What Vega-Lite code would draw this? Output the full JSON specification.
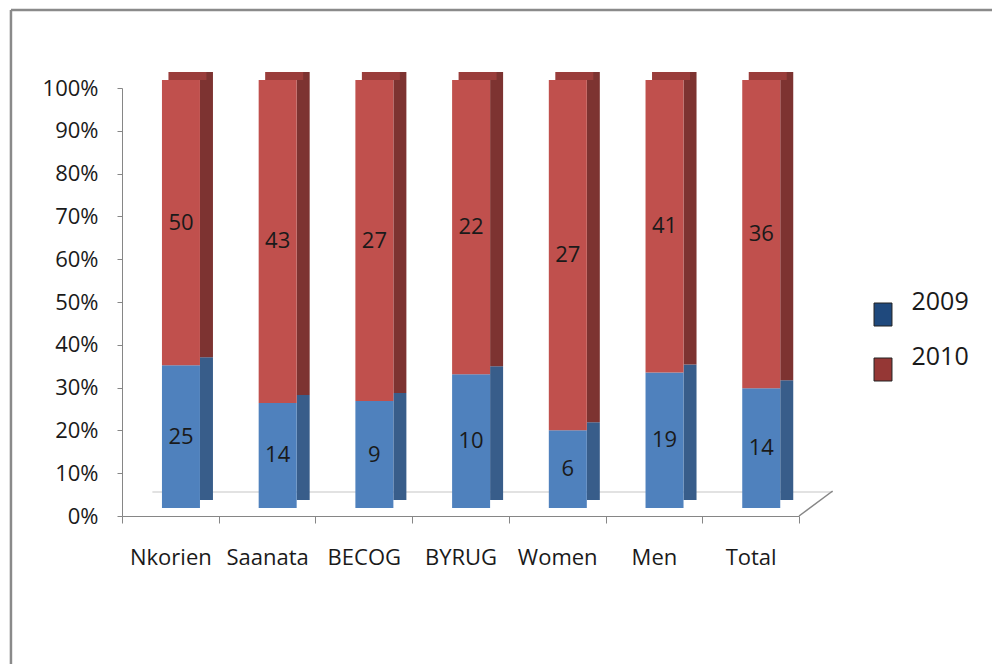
{
  "$schema": "https://vega.github.io/schema/vega-lite/v6.json",
  "width": 677,
  "height": 428,
  "autosize": "none",
  "padding": {"left": 122, "top": 88, "right": 193, "bottom": 148},
  "background": "white",
  "config": {
    "view": {"stroke": null},
    "font": "Open Sans",
    "axisX": {
      "title": null,
      "labelAngle": 0,
      "tickBand": "extent",
      "tickSize": 7,
      "domainColor": "#868686",
      "tickColor": "#868686",
      "labelFont": "Open Sans",
      "labelFontSize": 22,
      "labelPadding": 24,
      "labelColor": "#1a1a1a",
      "grid": false
    },
    "axisY": {
      "title": null,
      "grid": false,
      "domainColor": "#868686",
      "tickColor": "#868686",
      "tickSize": 5,
      "labelFont": "Open Sans",
      "labelFontSize": 22,
      "labelPadding": 19,
      "labelColor": "#1a1a1a",
      "values": [0, 0.1, 0.2, 0.3, 0.4, 0.5, 0.6, 0.7, 0.8, 0.9, 1],
      "format": ".0%"
    }
  },
  "data": {
    "values": [
      {"group": "Nkorien", "year": "2009", "count": 25},
      {"group": "Nkorien", "year": "2010", "count": 50},
      {"group": "Saanata", "year": "2009", "count": 14},
      {"group": "Saanata", "year": "2010", "count": 43},
      {"group": "BECOG", "year": "2009", "count": 9},
      {"group": "BECOG", "year": "2010", "count": 27},
      {"group": "BYRUG", "year": "2009", "count": 10},
      {"group": "BYRUG", "year": "2010", "count": 22},
      {"group": "Women", "year": "2009", "count": 6},
      {"group": "Women", "year": "2010", "count": 27},
      {"group": "Men", "year": "2009", "count": 19},
      {"group": "Men", "year": "2010", "count": 41},
      {"group": "Total", "year": "2009", "count": 14},
      {"group": "Total", "year": "2010", "count": 36}
    ]
  },
  "layer": [
    {
      "description": "outer frame, left edge",
      "data": {"values": [{}]},
      "mark": {"type": "rule", "color": "#8a8a8a", "strokeWidth": 2.5, "xOffset": -159.4, "yOffset": -78, "y2Offset": 170},
      "encoding": {
        "x": {"datum": "Nkorien", "type": "nominal", "bandPosition": 0.5, "title": null, "scale": {"domain": ["Nkorien", "Saanata", "BECOG", "BYRUG", "Women", "Men", "Total"], "paddingInner": 0, "paddingOuter": 0}},
        "y": {"datum": 1, "type": "quantitative", "title": null},
        "y2": {"datum": 0}
      }
    },
    {
      "description": "outer frame, top edge",
      "data": {"values": [{}]},
      "mark": {"type": "rule", "color": "#8a8a8a", "strokeWidth": 2.5, "xOffset": -159.4, "x2Offset": 300, "yOffset": -78},
      "encoding": {
        "x": {"datum": "Nkorien", "type": "nominal", "bandPosition": 0.5, "title": null, "scale": {"domain": ["Nkorien", "Saanata", "BECOG", "BYRUG", "Women", "Men", "Total"], "paddingInner": 0, "paddingOuter": 0}},
        "x2": {"datum": "Total"},
        "y": {"datum": 1, "type": "quantitative", "title": null}
      }
    },
    {
      "description": "floor, back edge",
      "data": {"values": [{}]},
      "mark": {"type": "rule", "color": "#d9d9d9", "strokeWidth": 1.5, "xOffset": -18, "x2Offset": 82, "yOffset": -24},
      "encoding": {
        "x": {"datum": "Nkorien", "type": "nominal", "bandPosition": 0.5, "title": null, "scale": {"domain": ["Nkorien", "Saanata", "BECOG", "BYRUG", "Women", "Men", "Total"], "paddingInner": 0, "paddingOuter": 0}},
        "x2": {"datum": "Total"},
        "y": {"datum": 0, "type": "quantitative", "title": null}
      }
    },
    {
      "description": "floor, right edge",
      "data": {"values": [{}]},
      "mark": {"type": "rule", "color": "#868686", "strokeWidth": 1.5, "xOffset": 48.4, "x2Offset": 82, "y2Offset": -25},
      "encoding": {
        "x": {"datum": "Total", "type": "nominal", "bandPosition": 0.5, "title": null, "scale": {"domain": ["Nkorien", "Saanata", "BECOG", "BYRUG", "Women", "Men", "Total"], "paddingInner": 0, "paddingOuter": 0}},
        "x2": {"datum": "Total"},
        "y": {"datum": 0, "type": "quantitative", "title": null},
        "y2": {"datum": 0}
      }
    },
    {
      "description": "bar side faces",
      "mark": {"type": "bar", "size": 13, "xOffset": 36.1, "yOffset": -16, "y2Offset": -8},
      "encoding": {
        "x": {"field": "group", "type": "nominal", "title": null, "scale": {"domain": ["Nkorien", "Saanata", "BECOG", "BYRUG", "Women", "Men", "Total"], "paddingInner": 0, "paddingOuter": 0}},
        "y": {"field": "count", "type": "quantitative", "stack": "normalize", "title": null},
        "color": {"field": "year", "type": "nominal", "scale": {"domain": ["2009", "2010"], "range": ["#385D8A", "#7D3331"]}, "legend": null},
        "order": {"field": "year"}
      }
    },
    {
      "description": "bar top faces",
      "transform": [{"filter": "datum.year === '2010'"}],
      "mark": {"type": "bar", "size": 38, "color": "#9A3D3B", "xOffset": 17.1, "yOffset": -16, "y2Offset": -8},
      "encoding": {
        "x": {"field": "group", "type": "nominal", "title": null, "scale": {"domain": ["Nkorien", "Saanata", "BECOG", "BYRUG", "Women", "Men", "Total"], "paddingInner": 0, "paddingOuter": 0}},
        "y": {"datum": 1, "type": "quantitative", "title": null},
        "y2": {"datum": 1}
      }
    },
    {
      "description": "bar front faces",
      "mark": {"type": "bar", "size": 38, "xOffset": 10.6, "yOffset": -8, "y2Offset": -8},
      "encoding": {
        "x": {"field": "group", "type": "nominal", "title": null, "scale": {"domain": ["Nkorien", "Saanata", "BECOG", "BYRUG", "Women", "Men", "Total"], "paddingInner": 0, "paddingOuter": 0}},
        "y": {"field": "count", "type": "quantitative", "stack": "normalize", "title": null},
        "color": {"field": "year", "type": "nominal", "scale": {"domain": ["2009", "2010"], "range": ["#4F81BD", "#C0504D"]}, "legend": null},
        "order": {"field": "year"}
      }
    },
    {
      "description": "segment counts",
      "mark": {"type": "text", "font": "Open Sans", "fontSize": 22, "color": "#1a1a1a", "xOffset": 10.6, "yOffset": -8},
      "encoding": {
        "x": {"field": "group", "type": "nominal", "title": null, "scale": {"domain": ["Nkorien", "Saanata", "BECOG", "BYRUG", "Women", "Men", "Total"], "paddingInner": 0, "paddingOuter": 0}},
        "y": {"field": "count", "type": "quantitative", "stack": "normalize", "bandPosition": 0.5, "title": null},
        "detail": {"field": "year"},
        "order": {"field": "year"},
        "text": {"field": "count", "type": "quantitative"}
      }
    },
    {
      "description": "legend swatches (marks themselves hidden)",
      "mark": {"type": "bar", "opacity": 0},
      "encoding": {
        "x": {"field": "group", "type": "nominal", "title": null, "scale": {"domain": ["Nkorien", "Saanata", "BECOG", "BYRUG", "Women", "Men", "Total"], "paddingInner": 0, "paddingOuter": 0}},
        "y": {"field": "count", "type": "quantitative", "stack": "normalize", "title": null},
        "color": {
          "field": "year",
          "type": "nominal",
          "scale": {"domain": ["2009", "2010"], "range": ["#1F497D", "#953735"]},
          "legend": {
            "orient": "none",
            "legendX": 748.5,
            "legendY": 214,
            "title": null,
            "padding": 0,
            "symbolType": "M-0.78,-1H0.78V1H-0.78Z",
            "symbolSize": 529,
            "symbolStrokeColor": "#222",
            "symbolStrokeWidth": 1,
            "labelFont": "Open Sans",
            "labelFontSize": 25,
            "labelColor": "#1a1a1a",
            "labelOffset": 16,
            "labelBaseline": "bottom",
            "rowPadding": 16
          }
        },
        "order": {"field": "year"}
      }
    }
  ],
  "resolve": {"scale": {"color": "independent"}}
}
